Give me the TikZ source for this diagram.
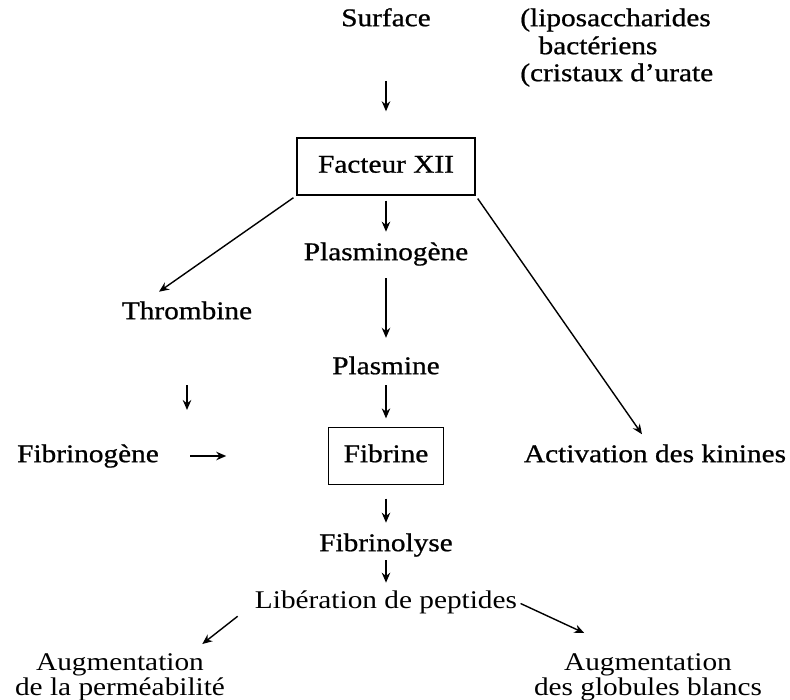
\documentclass[tikz,border=0pt]{standalone}
\usepackage{fontspec}
\setmainfont[FakeStretch=1.15, FakeBold=0.8]{Liberation Serif}
\newfontfamily\lightfont[FakeStretch=1.15]{Liberation Serif}
\usetikzlibrary{arrows.meta}
\tikzset{
  lbl/.style={inner sep=0pt, text height=10pt, text depth=3pt, font=\fontsize{14.5}{14.2}\selectfont},
  box/.style={lbl, draw, line width=0.8pt, minimum height=1.14cm},
  twoline/.style={inner sep=0pt, align=center, anchor=north, font=\lightfont\fontsize{14.5}{14.2}\selectfont},
  arr/.style={-{Stealth[length=2mm,width=1.7mm]}, line width=0.8pt},
}
\begin{document}
\begin{tikzpicture}[x=0.2cm, y=-0.2cm]
  \useasboundingbox (0,0) rectangle (79,69.9);
  % top
  \node [lbl] (surf) at (38.6,2.0) {Surface};
  \node [lbl, anchor=west] (lipo) at (52.0,2.0) {(liposaccharides};
  \node [lbl] (bact) at (59.8,4.8) {bactériens};
  \node [lbl, anchor=west] (urate) at (52.0,7.5) {(cristaux d'urate};
  \node [box, minimum width=3.56cm] (fxii) at (38.6,16.65) {Facteur XII};
  % middle
  \node [lbl] (plgn) at (38.6,25.4) {Plasminogène};
  \node [lbl] (thromb) at (18.7,31.3) {Thrombine};
  \node [lbl] (plas) at (38.6,36.8) {Plasmine};
  \coordinate (thend) at (18.7,41.0);
  \node [lbl] (fgen) at (8.8,45.6) {Fibrinogène};
  \node [box, minimum width=2.3cm] (fibr) at (38.6,45.6) {Fibrine};
  \node [lbl] (act) at (65.5,45.6) {Activation des kinines};
  % bottom
  \node [lbl] (flys) at (38.6,54.5) {Fibrinolyse};
  \node [lbl, font=\lightfont\fontsize{14.5}{14.2}\selectfont] (liber) at (38.6,60.2) {Libération de peptides};
  \node [twoline] (augl) at (12.0,65.3) {Augmentation\\de la perméabilité};
  \node [twoline] (augr) at (64.8,65.3) {Augmentation\\des globules blancs};
  % arrows
  \draw [arr, shorten <=28pt, shorten >=14.8pt] (surf.south) -- (fxii.north);
  \draw [arr, shorten <=2.8pt, shorten >=6pt] (fxii.south) -- (plgn.north);
  \draw [arr, shorten <=2pt] (fxii.south west) -- ([shift={(-0.56cm,0.19cm)}]thromb.north);
  \draw [arr, shorten <=2pt] (fxii.south east) -- ([shift={(-0.26cm,0.2cm)}]act.north);
  \draw [arr, shorten <=7.1pt, shorten >=10.5pt] (plgn.south) -- (plas.north);
  \draw [arr, shorten <=3.1pt, shorten >=4.8pt] (plas.south) -- (fibr.north);
  \draw [arr, shorten <=34.4pt] (thromb.south) -- (thend);
  \draw [arr, shorten <=17.6pt, shorten >=57.8pt] (fgen.east) -- (fibr.west);
  \draw [arr, shorten <=7.7pt, shorten >=6pt] (fibr.south) -- (flys.north);
  \draw [arr, shorten <=2pt, shorten >=4.3pt] (flys.south) -- (liber.north);
  \draw [arr] ([shift={(-0.34cm,-0.05cm)}]liber.south west) -- ([shift={(-0.46cm,0.18cm)}]augl.north east);
  \draw [arr, shorten <=2pt] (liber.east) -- ([shift={(1.01cm,0.4cm)}]augr.north west);
\end{tikzpicture}
\end{document}
